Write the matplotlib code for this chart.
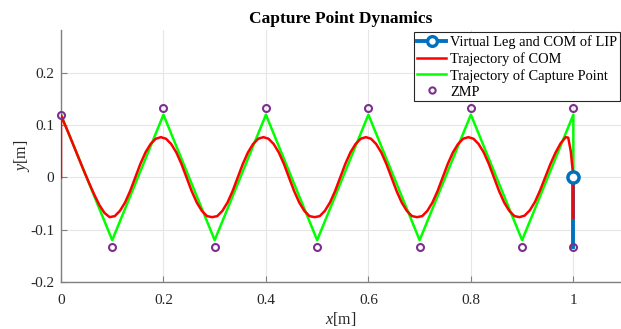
import numpy as np
import matplotlib
matplotlib.use('Agg')
import matplotlib.pyplot as plt
from matplotlib.lines import Line2D

plt.rcParams['font.family'] = 'Liberation Serif'
plt.rcParams['mathtext.fontset'] = 'custom'
plt.rcParams['mathtext.rm'] = 'Liberation Serif'
plt.rcParams['mathtext.it'] = 'Liberation Serif:italic'

# ZMP footholds
zmp_x = [0.0, 0.1, 0.2, 0.3, 0.4, 0.5, 0.6, 0.7, 0.8, 0.9, 1.0, 1.0]
zmp_y = [0.12, -0.133, 0.133, -0.133, 0.133, -0.133, 0.133, -0.133,
         0.133, -0.133, 0.133, -0.133]

# capture point trajectory
cp_x = [0.0, 0.1, 0.2, 0.3, 0.4, 0.5, 0.6, 0.7, 0.8, 0.9, 1.0, 1.0]
cp_y = [0.12, -0.12, 0.12, -0.12, 0.12, -0.12, 0.12, -0.12,
        0.12, -0.12, 0.12, 0.0]

# COM trajectory, sampled every 0.01 from x = 0.005
com_x = ([0.0, 0.0] + list(np.round(np.arange(0.005, 0.99, 0.01), 3))
         + [0.99, 0.995, 0.998, 1.0, 1.0])
com_y = [0.0, 0.119,
         0.107, 0.084, 0.060, 0.036, 0.012, -0.011, -0.033, -0.053, -0.068,
         -0.076,
         -0.074, -0.064, -0.048, -0.026, 0.0, 0.026, 0.048, 0.064, 0.074, 0.077,
         0.074, 0.064, 0.048, 0.026, 0.0, -0.026, -0.048, -0.064, -0.074, -0.076,
         -0.074, -0.064, -0.048, -0.026, 0.0, 0.026, 0.048, 0.064, 0.074, 0.077,
         0.074, 0.064, 0.048, 0.026, 0.0, -0.026, -0.048, -0.064, -0.074, -0.076,
         -0.074, -0.064, -0.048, -0.026, 0.0, 0.026, 0.048, 0.064, 0.074, 0.077,
         0.074, 0.064, 0.048, 0.026, 0.0, -0.026, -0.048, -0.064, -0.074, -0.076,
         -0.074, -0.064, -0.048, -0.026, 0.0, 0.026, 0.048, 0.064, 0.074, 0.077,
         0.074, 0.064, 0.048, 0.026, 0.0, -0.026, -0.048, -0.064, -0.074, -0.076,
         -0.073, -0.063, -0.047, -0.025, 0.0, 0.025, 0.047, 0.065, 0.077,
         0.076, 0.05, 0.02, 0.0, -0.077]

# virtual leg: from support foot to COM
leg_x = [1.0, 1.0]
leg_y = [-0.133, 0.0]

x_ticks = [0, 0.2, 0.4, 0.6, 0.8, 1.0]
x_labels = ['0', '0.2', '0.4', '0.6', '0.8', '1']
y_ticks = [-0.2, -0.1, 0, 0.1, 0.2]
y_labels = ['-0.2', '-0.1', '0', '0.1', '0.2']

blue = '#0072BD'
purple = '#7E2F8E'
txt = '#262626'

fig = plt.figure(figsize=(6.21, 3.29), dpi=100)
ax = fig.add_axes([0.0982, 0.1429, 0.9018, 0.766])

ax.plot(cp_x, cp_y, color='#00FF00', lw=1.8, zorder=3)
ax.plot(leg_x, leg_y, color=blue, lw=2.8, zorder=4)
ax.plot(com_x, com_y, color='red', lw=1.8, zorder=5)
ax.plot(leg_x[1:], leg_y[1:], 'o', color=blue, ms=8, mew=2.5,
        mfc='white', zorder=6)
ax.plot(zmp_x, zmp_y, 'o', color=purple, ms=5, mew=1.5, mfc='none',
        zorder=7, clip_on=False)

ax.set_xlim(0, 1.093)
ax.set_ylim(-0.2, 0.282)
ax.set_xticks(x_ticks)
ax.set_xticklabels(x_labels)
ax.set_yticks(y_ticks)
ax.set_yticklabels(y_labels)
ax.grid(True, color='#e6e6e6', lw=0.8)
ax.set_axisbelow(True)
for s in ['top', 'right']:
    ax.spines[s].set_visible(False)
for s in ['left', 'bottom']:
    ax.spines[s].set_color('#808080')
    ax.spines[s].set_linewidth(1.0)
ax.tick_params(direction='in', length=4, color='#808080', labelsize=11,
               labelcolor=txt, pad=5)
ax.tick_params(axis='x', pad=8.5)

ax.set_xlabel('$x$[m]', fontsize=11.5, color=txt, labelpad=2)
ax.set_ylabel('$y$[m]', fontsize=11.5, color=txt, labelpad=-1.5)
ax.set_title('Capture Point Dynamics', fontsize=12.5, fontweight='bold',
             pad=5)

handles = [
    Line2D([], [], color=blue, lw=2.8, marker='o', ms=7, mew=2.4,
           mfc='white'),
    Line2D([], [], color='red', lw=1.8),
    Line2D([], [], color='#00FF00', lw=1.8),
    Line2D([], [], ls='none', marker='o', color=purple, ms=4.5, mew=1.5,
           mfc='none'),
]
labels = ['Virtual Leg and COM of LIP', 'Trajectory of COM',
          'Trajectory of Capture Point', 'ZMP']
leg = ax.legend(handles, labels, loc='upper right',
                bbox_to_anchor=(0.998, 0.99), fontsize=10.4,
                frameon=True, fancybox=False, framealpha=1,
                edgecolor='#262626', borderaxespad=0.0, borderpad=0.2,
                labelspacing=0.2, handlelength=2.0, handletextpad=0.25,
                numpoints=1)
leg.get_frame().set_linewidth(0.8)
leg.set_zorder(10)

fig.savefig('out.png', dpi=100)
